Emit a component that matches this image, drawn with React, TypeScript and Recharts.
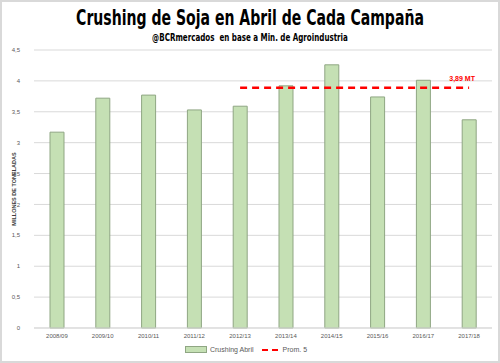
import {
  ComposedChart,
  Bar,
  Line,
  XAxis,
  YAxis,
  CartesianGrid,
  Legend,
  LabelList,
} from "recharts";

const campanas = [
  "2008/09",
  "2009/10",
  "2010/11",
  "2011/12",
  "2012/13",
  "2013/14",
  "2014/15",
  "2015/16",
  "2016/17",
  "2017/18",
];
const crushingAbril = [3.17, 3.72, 3.77, 3.53, 3.59, 3.92, 4.26, 3.74, 4.01, 3.37];
const prom5 = [null, null, null, null, 3.89, 3.89, 3.89, 3.89, 3.89, 3.89];
const yTicks = [0, 0.5, 1, 1.5, 2, 2.5, 3, 3.5, 4, 4.5];

const data = campanas.map((c, i) => ({
  campana: c,
  crushing: crushingAbril[i],
  prom: prom5[i],
}));

const fmt = (v: number) => String(v).replace(".", ",");

const PromLabel = (props: any) => {
  const { x, y, index } = props;
  if (index !== campanas.length - 1) return null;
  return (
    <text
      x={x - 7}
      y={y - 7}
      textAnchor="middle"
      fill="#ff0000"
      fontSize={7}
      fontWeight="bold"
      fontFamily="Liberation Sans, Arial, sans-serif"
    >
      3,89 MT
    </text>
  );
};

const LegendContent = () => (
  <div
    style={{
      display: "flex",
      justifyContent: "center",
      alignItems: "center",
      fontSize: 7,
      color: "#595959",
      fontFamily: "Liberation Sans, Arial, sans-serif",
      gap: 8,
    }}
  >
    <span style={{ display: "flex", alignItems: "center", gap: 3 }}>
      <span
        style={{
          width: 20,
          height: 5,
          background: "#c5e0b4",
          border: "1px solid #8fa683",
          display: "inline-block",
        }}
      />
      Crushing Abril
    </span>
    <span style={{ display: "flex", alignItems: "center", gap: 3 }}>
      <svg width={18} height={4}>
        <line x1={0} y1={2} x2={18} y2={2} stroke="#ff0000" strokeWidth={2} strokeDasharray="6 4" />
      </svg>
      Prom. 5
    </span>
  </div>
);

export default function App() {
  return (
    <div
      style={{
        position: "absolute",
        left: 0,
        top: 0,
        width: 500,
        height: 363,
        boxSizing: "border-box",
        border: "2px solid #d9d9d9",
        background: "#fff",
        overflow: "hidden",
      }}
    >
      <div
        style={{
          position: "absolute",
          left: 0,
          top: 3,
          width: 496,
          textAlign: "center",
          fontFamily: "Liberation Sans Narrow, DejaVu Sans Condensed, sans-serif",
          fontWeight: "bold",
          fontSize: 22,
          lineHeight: "26px",
          color: "#000",
          transform: "scaleX(0.71)",
        }}
      >
        Crushing de Soja en Abril de Cada Campaña
      </div>
      <div
        style={{
          position: "absolute",
          left: 0,
          top: 29,
          width: 496,
          textAlign: "center",
          fontFamily: "Liberation Sans Narrow, DejaVu Sans Condensed, sans-serif",
          fontWeight: "bold",
          fontSize: 11,
          lineHeight: "13px",
          color: "#000",
          transform: "scaleX(0.72)",
        }}
      >
        @BCRmercados&nbsp; en base a Min. de Agroindustria
      </div>
      <div style={{ position: "absolute", left: -2, top: -2 }}>
        <ComposedChart
          width={500}
          height={363}
          data={data}
          margin={{ top: 50, right: 8, left: 0, bottom: 11 }}
        >
          <CartesianGrid vertical={false} stroke="#d9d9d9" />
          <XAxis
            dataKey="campana"
            height={12}
            tickLine={false}
            tickSize={0}
            axisLine={{ stroke: "#d9d9d9" }}
            tick={{ fontSize: 6, fill: "#595959", fontFamily: "Liberation Sans, Arial, sans-serif" }}
            tickMargin={6}
            interval={0}
          />
          <YAxis
            width={34}
            domain={[0, 4.5]}
            ticks={yTicks}
            tickFormatter={fmt}
            tickLine={false}
            axisLine={false}
            tick={{ fontSize: 6, fill: "#595959", fontFamily: "Liberation Sans, Arial, sans-serif" }}
            tickMargin={8}
            label={{
              value: "MILLONES DE TONELADAS",
              angle: -90,
              position: "insideLeft",
              offset: 14,
              style: {
                fontSize: 5.5,
                fontWeight: "bold",
                fill: "#404040",
                fontFamily: "Liberation Sans, Arial, sans-serif",
                textAnchor: "middle",
              },
            }}
          />
          <Legend
            verticalAlign="bottom"
            height={12}
            content={<LegendContent />}
            wrapperStyle={{ top: 346 }}
          />
          <Bar
            dataKey="crushing"
            name="Crushing Abril"
            barSize={14}
            fill="#c5e0b4"
            stroke="#8fa683"
            strokeWidth={1}
            isAnimationActive={false}
          />
          <Line
            dataKey="prom"
            name="Prom. 5"
            stroke="#ff0000"
            strokeWidth={2.5}
            strokeDasharray="7 5"
            dot={false}
            isAnimationActive={false}
            connectNulls={false}
          >
            <LabelList dataKey="prom" content={<PromLabel />} />
          </Line>
        </ComposedChart>
      </div>
    </div>
  );
}
